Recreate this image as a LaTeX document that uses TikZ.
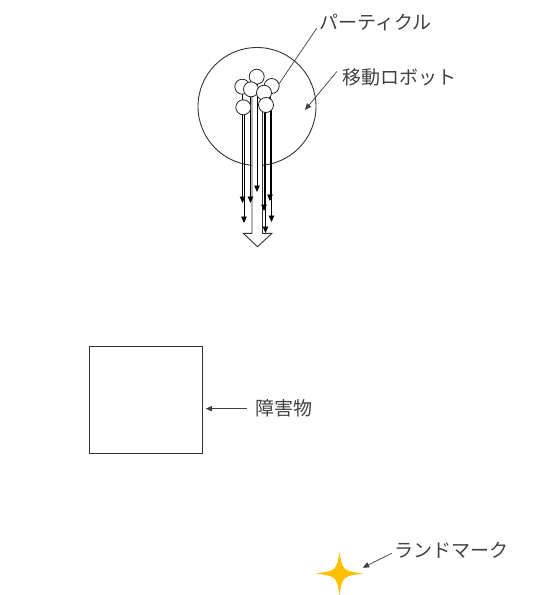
\documentclass[tikz,border=0pt]{standalone}
\usepackage{fontspec}
\setmainfont{Noto Sans CJK JP}
\usetikzlibrary{arrows.meta,calc}
\definecolor{ink}{HTML}{404040}
\definecolor{gold}{HTML}{FFC000}
\begin{document}
\begin{tikzpicture}[x=1pt,y=-1pt,
  lbl/.style={anchor=west,inner sep=0pt,font=\fontsize{19}{20}\selectfont,text=ink},
  part/.style={circle,draw=black!85,fill=white,minimum size=15pt,inner sep=0pt,line width=0.8pt},
  mv/.style={-{Triangle[length=6.5pt,width=5.5pt]},line width=0.8pt,draw=black},
  lead/.style={line width=0.7pt,draw=black!75},
  leadarr/.style={lead,-{Triangle[length=6.5pt,width=5.5pt]}},
  outl/.style={draw=black!80,line width=0.9pt}]
\useasboundingbox (0,0) rectangle (535,595);
% robot
\node[outl,circle,minimum size=118pt,inner sep=0pt] (robot) at (257,106.5) {};
% big hollow arrow
\fill[white] (252,95) -- (252,233.3) -- (243.3,233.3) -- (257.5,246.7) -- (272,233.3) -- (262.5,233.3) -- (262.5,95) -- cycle;
\draw[outl] (252,95) -- (252,233.3) -- (243.3,233.3) -- (257.5,246.7) -- (272,233.3) -- (262.5,233.3) -- (262.5,95);
% particle anchor coordinates
\coordinate (a0) at (242.5,87);  \coordinate (a1) at (242.5,203);
\coordinate (b0) at (244,107);   \coordinate (b1) at (244,223);
\coordinate (c0) at (250.5,89);  \coordinate (c1) at (250.5,203);
\coordinate (d0) at (257,77);    \coordinate (d1) at (257,192);
\coordinate (e0) at (264,93);    \coordinate (e1) at (264,211);
\coordinate (f0) at (265.5,105); \coordinate (f1) at (265.5,233);
\coordinate (g0) at (270,86);    \coordinate (g1) at (270,201);
\coordinate (h0) at (271.5,105); \coordinate (h1) at (271.5,222);
\foreach \s in {a,b,c,d,e,f,g,h} {\draw[mv] (\s0) -- (\s1);}
% particles
\node[part] (p2) at (256.7,76.7) {};
\node[part] (p1) at (242.3,86.7) {};
\node[part] (p5) at (271.7,86) {};
\node[part] (p3) at (251,89.3) {};
\node[part] (p4) at (264,92.7) {};
\node[part] (p6) at (243.3,107.3) {};
\node[part] (p7) at (266,105) {};
% obstacle
\node[outl,rectangle,minimum width=113pt,minimum height=107pt,inner sep=0pt] (obs) at (146.3,399.5) {};
% landmark star
\coordinate (star) at (339.5,573.5);
\fill[gold] ($(star)+(0,-22)$) .. controls ($(star)+(3,-3)$) .. ($(star)+(23.5,0)$)
  .. controls ($(star)+(3,3)$) .. ($(star)+(0,22)$)
  .. controls ($(star)+(-3,3)$) .. ($(star)+(-23.5,0)$)
  .. controls ($(star)+(-3,-3)$) .. cycle;
% labels
\node[lbl] (tpart) at (319.5,22.5) {パーティクル};
\node[lbl] (trobot) at (342.5,77.5) {移動ロボット};
\node[lbl] (tobs) at (255,408) {障害物};
\node[lbl] (tland) at (394,550.5) {ランドマーク};
% leaders
\coordinate (lp0) at (316.7,28.3);
\draw[lead] (lp0) -- (p5.18);
\coordinate (lr0) at (336.7,71.7); \coordinate (lr1) at (305,110);
\draw[leadarr] (lr0) -- (lr1);
\coordinate (lo0) at (246.7,408.7); \coordinate (lo1) at (205.7,408.7);
\draw[leadarr] (lo0) -- (lo1);
\coordinate (ll0) at (391.7,553.3); \coordinate (ll1) at (362.7,567.7);
\draw[leadarr] (ll0) -- (ll1);
\end{tikzpicture}
\end{document}
